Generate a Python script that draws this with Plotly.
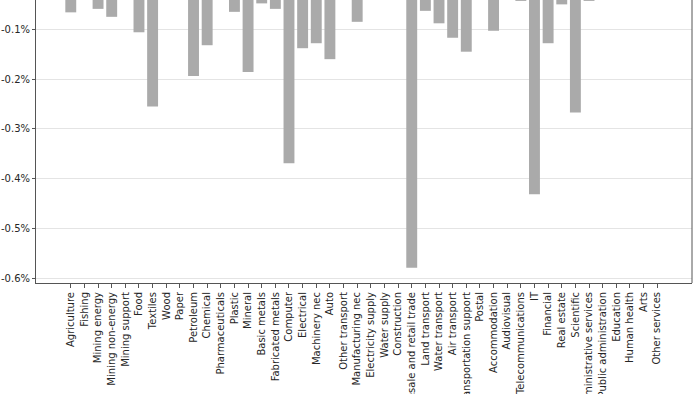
import plotly.graph_objects as go

sectors = ["Agriculture", "Fishing", "Mining energy", "Mining non-energy", "Mining support",
           "Food", "Textiles", "Wood", "Paper", "Petroleum", "Chemical", "Pharmaceuticals",
           "Plastic", "Mineral", "Basic metals", "Fabricated metals", "Computer", "Electrical",
           "Machinery nec", "Auto", "Other transport", "Manufacturing nec", "Electricity supply",
           "Water supply", "Construction", "Wholesale and retail trade", "Land transport",
           "Water transport", "Air transport", "Transportation support", "Postal",
           "Accommodation", "Audiovisual", "Telecommunications", "IT", "Financial",
           "Real estate", "Scientific", "Administrative services", "Public administration",
           "Education", "Human health", "Arts", "Other services"]

# change in percent
values = [-0.066, 0.0, -0.059, -0.075, 0.0,
          -0.106, -0.255, 0.0, 0.0, -0.194, -0.132, 0.0,
          -0.065, -0.186, -0.048, -0.059, -0.369, -0.138,
          -0.128, -0.160, 0.0, -0.085, 0.0,
          0.0, 0.0, -0.579, -0.063,
          -0.088, -0.117, -0.145, 0.0,
          -0.103, 0.0, -0.043, -0.431, -0.128,
          -0.050, -0.267, -0.043, 0.0,
          0.0, 0.0, 0.0, 0.0]

y_ticks = [-0.1, -0.2, -0.3, -0.4, -0.5, -0.6]
y_tick_labels = ["-0.1%", "-0.2%", "-0.3%", "-0.4%", "-0.5%", "-0.6%"]

x_idx = list(range(len(sectors)))

fig = go.Figure(go.Bar(
    x=x_idx, y=values, width=0.8,
    marker=dict(color="#aaaaaa", line=dict(width=0)),
))

font = dict(family="DejaVu Sans", size=10, color="#262626")

fig.update_layout(
    width=700, height=394,
    margin=dict(l=36, r=8, t=0, b=111, autoexpand=False),
    paper_bgcolor="white", plot_bgcolor="white",
    showlegend=False,
    font=font,
    bargap=0.2,
    xaxis=dict(
        range=[-2.55, 45.55],
        tickmode="array", tickvals=x_idx, ticktext=sectors,
        tickangle=-90, tickfont=font,
        ticks="outside", ticklen=4, tickwidth=1, tickcolor="#555555",
        showgrid=False, zeroline=False,
        showline=True, linecolor="#555555", linewidth=1,
        automargin=False,
    ),
    yaxis=dict(
        range=[-0.6094, -0.0412],
        tickmode="array", tickvals=y_ticks, ticktext=y_tick_labels,
        tickfont=font,
        ticks="outside", ticklen=3, tickwidth=1, tickcolor="#555555",
        showgrid=True, gridcolor="#e4e4e4", gridwidth=1,
        zeroline=False,
        showline=True, linecolor="#555555", linewidth=1,
        automargin=False,
    ),
    shapes=[dict(type="line", xref="paper", yref="paper", x0=1, x1=1, y0=0, y1=1,
                 line=dict(color="#555555", width=1))],
)

fig.write_html(
    "out.html",
    config={"displayModeBar": False, "staticPlot": True},
    post_script="document.body.style.margin='0';document.body.style.overflow='hidden';",
)
